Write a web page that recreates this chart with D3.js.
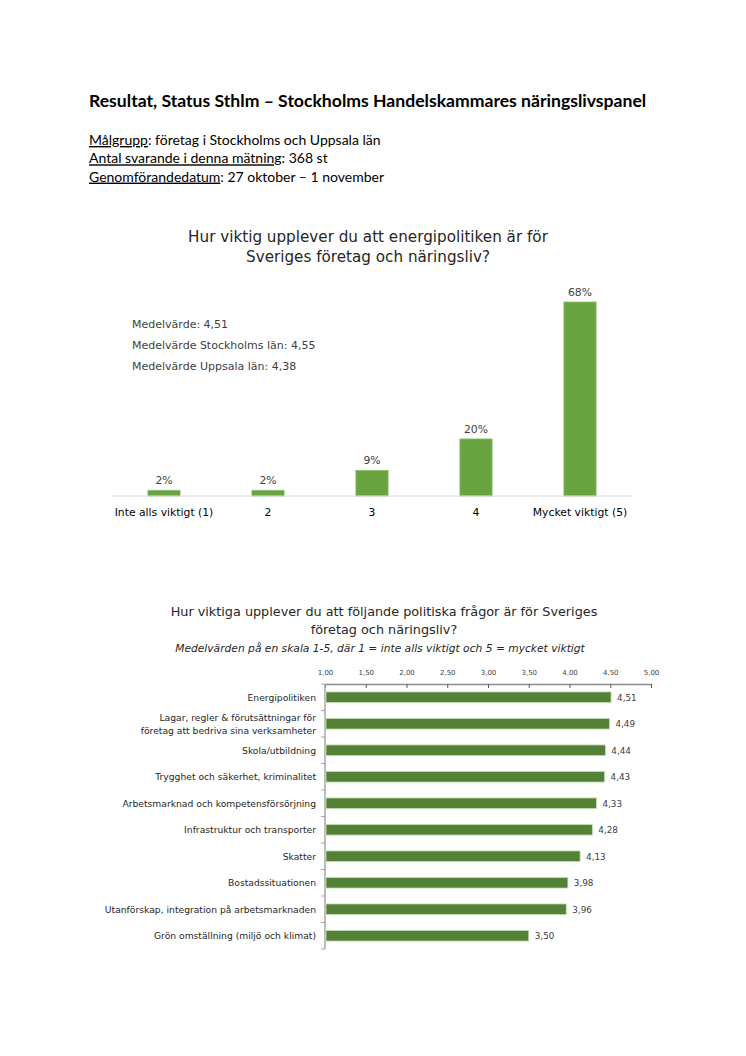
<!DOCTYPE html>
<html>
<head>
<meta charset="utf-8">
<script src="https://cdn.jsdelivr.net/npm/d3@7"></script>
<style>
  html, body { margin: 0; padding: 0; background: #fff; }
  svg { display: block; }
</style>
</head>
<body>
<svg id="page" width="746" height="1056"></svg>
<script>
// ---------- data ----------
const headerTitle = "Resultat, Status Sthlm – Stockholms Handelskammares näringslivspanel";
const infoKeys = ["Målgrupp", "Antal svarande i denna mätning", "Genomförandedatum"];
const infoValues = [": företag i Stockholms och Uppsala län", ": 368 st", ": 27 oktober – 1 november"];

const chart1Title = ["Hur viktig upplever du att energipolitiken är för", "Sveriges företag och näringsliv?"];
const chart1Categories = ["Inte alls viktigt (1)", "2", "3", "4", "Mycket viktigt (5)"];
const chart1Values = [2, 2, 9, 20, 68];
const chart1Notes = ["Medelvärde: 4,51", "Medelvärde Stockholms län: 4,55", "Medelvärde Uppsala län: 4,38"];

const chart2Title = ["Hur viktiga upplever du att följande politiska frågor är för Sveriges", "företag och näringsliv?"];
const chart2Subtitle = "Medelvärden på en skala 1-5, där 1 = inte alls viktigt och 5 = mycket viktigt";
const chart2Categories = [
  "Energipolitiken",
  "Lagar, regler & förutsättningar för\nföretag att bedriva sina verksamheter",
  "Skola/utbildning",
  "Trygghet och säkerhet, kriminalitet",
  "Arbetsmarknad och kompetensförsörjning",
  "Infrastruktur och transporter",
  "Skatter",
  "Bostadssituationen",
  "Utanförskap, integration på arbetsmarknaden",
  "Grön omställning (miljö och klimat)"
];
const chart2Values = [4.51, 4.49, 4.44, 4.43, 4.33, 4.28, 4.13, 3.98, 3.96, 3.50];
const chart2Ticks = [1, 1.5, 2, 2.5, 3, 3.5, 4, 4.5, 5];

// ---------- setup ----------
const svg = d3.select("#page");
const docFont = "Lato, 'Open Sans', sans-serif";
const chartFont = "'DejaVu Sans', Verdana, sans-serif";
const textColor = "#404040";
const sv = d3.formatLocale({decimal: ",", thousands: " ", grouping: [3], currency: ["", " kr"]});
const fmt2 = sv.format(".2f");

// ---------- header ----------
svg.append("text")
  .attr("x", 89).attr("y", 107)
  .attr("font-family", docFont).attr("font-weight", "bold")
  .attr("font-size", 17.6).attr("fill", "#000")
  .text(headerTitle);

infoKeys.forEach((k, i) => {
  const t = svg.append("text")
    .attr("x", 89).attr("y", 145 + i * 18.3)
    .attr("font-family", docFont).attr("font-size", 14).attr("fill", "#000");
  t.append("tspan").attr("text-decoration", "underline").text(k);
  t.append("tspan").text(infoValues[i]);
});

// ---------- chart 1 ----------
const c1 = svg.append("g");
const x1 = d3.scaleBand().domain(chart1Categories).range([112, 632]).paddingInner(0.69).paddingOuter(0.345);
const y1 = d3.scaleLinear().domain([0, 80]).range([496, 496 - 80 * 2.853]);

c1.selectAll("text.title").data(chart1Title).join("text")
  .attr("class", "title")
  .attr("x", 368).attr("y", (d, i) => 242 + i * 20)
  .attr("text-anchor", "middle")
  .attr("font-family", chartFont).attr("font-size", 15.2).attr("fill", "#262626")
  .text(d => d);

c1.selectAll("text.note").data(chart1Notes).join("text")
  .attr("class", "note")
  .attr("x", 132).attr("y", (d, i) => 328 + i * 21)
  .attr("font-family", chartFont).attr("font-size", 11).attr("fill", textColor)
  .text(d => d);

c1.selectAll("rect.bar").data(chart1Values).join("rect")
  .attr("class", "bar")
  .attr("x", (d, i) => x1(chart1Categories[i]))
  .attr("width", x1.bandwidth())
  .attr("y", d => y1(d))
  .attr("height", d => y1(0) - y1(d))
  .attr("fill", "#69a341").attr("stroke", "#8dc06b").attr("stroke-width", 0.8);

c1.append("line")
  .attr("x1", 112).attr("x2", 632).attr("y1", y1(0)).attr("y2", y1(0))
  .attr("stroke", "#d9d9d9").attr("stroke-width", 1.2);

c1.selectAll("text.val").data(chart1Values).join("text")
  .attr("class", "val")
  .attr("x", (d, i) => x1(chart1Categories[i]) + x1.bandwidth() / 2)
  .attr("y", d => y1(d) - 6)
  .attr("text-anchor", "middle")
  .attr("font-family", chartFont).attr("font-size", 10.8).attr("fill", textColor)
  .text(d => d + "%");

c1.selectAll("text.cat").data(chart1Categories).join("text")
  .attr("class", "cat")
  .attr("x", d => x1(d) + x1.bandwidth() / 2)
  .attr("y", 516)
  .attr("text-anchor", "middle")
  .attr("font-family", chartFont).attr("font-size", 10.8).attr("fill", "#000")
  .text(d => d);

// ---------- chart 2 ----------
const c2 = svg.append("g");
const x2 = d3.scaleLinear().domain([1, 5]).range([325, 651]);
const y2 = d3.scaleBand().domain(chart2Categories).range([684, 949]).paddingInner(0.6).paddingOuter(0.3);

c2.selectAll("text.title").data(chart2Title).join("text")
  .attr("class", "title")
  .attr("x", 384).attr("y", (d, i) => 616 + i * 18)
  .attr("text-anchor", "middle")
  .attr("font-family", chartFont).attr("font-size", 12.8).attr("fill", "#262626")
  .text(d => d);

c2.append("text")
  .attr("x", 380).attr("y", 652)
  .attr("text-anchor", "middle")
  .attr("font-family", chartFont).attr("font-style", "italic")
  .attr("font-size", 10.7).attr("fill", "#262626")
  .text(chart2Subtitle);

// top axis
const xAxis = d3.axisTop(x2).tickValues(chart2Ticks).tickFormat(fmt2).tickSizeInner(-4).tickSizeOuter(0).tickPadding(9);
const gx = c2.append("g").attr("transform", "translate(0,684)").call(xAxis);
gx.select(".domain").attr("stroke", "#8c8c8c").attr("stroke-width", 1.5);
gx.selectAll(".tick line").attr("stroke", "#595959").attr("stroke-width", 1);
gx.selectAll(".tick text").attr("font-family", chartFont).attr("font-size", 7).attr("fill", textColor);

// left axis line with boundary ticks
const boundaries = d3.range(chart2Categories.length + 1).map(i => 684 + i * y2.step());
c2.append("line")
  .attr("x1", 325).attr("x2", 325).attr("y1", 684).attr("y2", 949)
  .attr("stroke", "#a6a6a6").attr("stroke-width", 1.5);
c2.selectAll("line.bt").data(boundaries).join("line")
  .attr("class", "bt")
  .attr("x1", 321).attr("x2", 325).attr("y1", d => d).attr("y2", d => d)
  .attr("stroke", "#a6a6a6").attr("stroke-width", 1);

c2.selectAll("rect.bar").data(chart2Values).join("rect")
  .attr("class", "bar")
  .attr("x", x2(1) + 1)
  .attr("y", (d, i) => y2(chart2Categories[i]))
  .attr("width", d => x2(d) - x2(1) - 1)
  .attr("height", y2.bandwidth())
  .attr("fill", "#538135").attr("stroke", "#c5e0b4").attr("stroke-width", 0.8);

c2.selectAll("text.val").data(chart2Values).join("text")
  .attr("class", "val")
  .attr("x", d => x2(d) + 6)
  .attr("y", (d, i) => y2(chart2Categories[i]) + y2.bandwidth() / 2 + 3.3)
  .attr("font-family", chartFont).attr("font-size", 8.8).attr("fill", textColor)
  .text(d => fmt2(d));

const catText = c2.selectAll("text.cat").data(chart2Categories).join("text")
  .attr("class", "cat")
  .attr("x", 316)
  .attr("y", d => y2(d) + y2.bandwidth() / 2 + 3.3)
  .attr("text-anchor", "end")
  .attr("font-family", chartFont).attr("font-size", 9.2).attr("fill", "#262626");
catText.each(function(d) {
  const lines = d.split("\n");
  const t = d3.select(this);
  lines.forEach((ln, j) => {
    t.append("tspan").attr("x", 316)
      .attr("dy", j === 0 ? (-(lines.length - 1) * 6.5) : 13)
      .text(ln);
  });
});
</script>
</body>
</html>
